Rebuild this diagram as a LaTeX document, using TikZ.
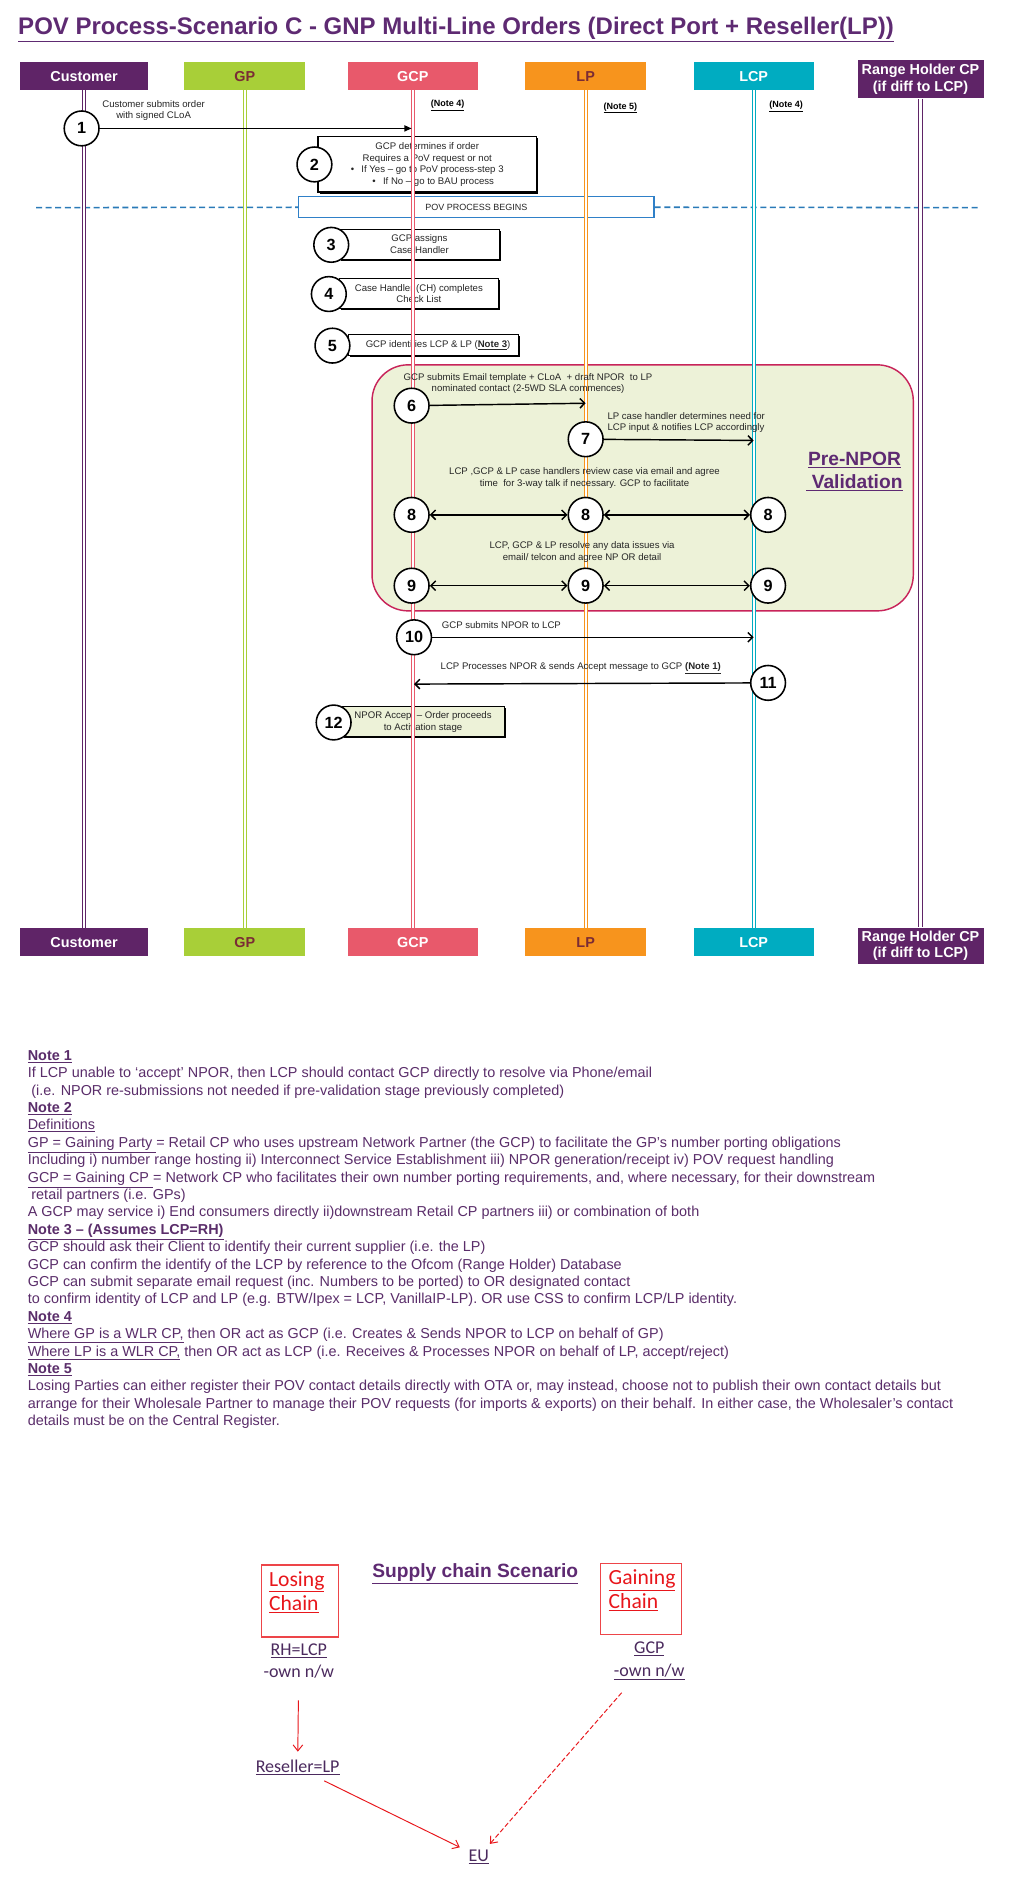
\documentclass[tikz,border=0pt]{standalone}
\usepackage{fontspec}
\setmainfont{Liberation Sans}
\newfontfamily\calfont{Carlito}
\usetikzlibrary{arrows.meta,shadows}
\pgfdeclarelayer{bg}\pgfdeclarelayer{mid}
\pgfsetlayers{bg,mid,main}
\definecolor{ttl}{HTML}{5E2A72}
\definecolor{cust}{HTML}{5F2467}
\definecolor{gpc}{HTML}{A8CF38}
\definecolor{gcpc}{HTML}{E8596B}
\definecolor{lpc}{HTML}{F7941D}
\definecolor{lcpc}{HTML}{00ACC1}
\definecolor{gptxt}{HTML}{7A2B35}
\definecolor{valfill}{HTML}{EDF2D8}
\definecolor{valbord}{HTML}{C8245A}
\definecolor{dashblue}{HTML}{2A7AB8}
\definecolor{povblue}{HTML}{2F80C8}
\definecolor{notec}{HTML}{5A2D6A}
\definecolor{chainred}{HTML}{E8161B}
\definecolor{scpurple}{HTML}{4B2A5E}
\begin{document}
\begin{tikzpicture}[x=1pt,y=-1pt,
  hdr/.style={minimum height=23pt, inner sep=0pt, font=\fontsize{12}{13}\selectfont\bfseries, text=white},
  life/.style={draw=#1, line width=0.8pt, double=white, double distance=1.8pt},
  num/.style={circle, draw=black, line width=1.3pt, fill=white, minimum size=29pt, inner sep=0pt, font=\fontsize{13.5}{14}\selectfont\bfseries},
  sm/.style={font=\fontsize{8}{9.6}\selectfont, align=center, inner sep=0pt, text=black!85},
  sbox/.style={draw=black, line width=0.9pt, fill=white, drop shadow={shadow xshift=1.3pt, shadow yshift=-1.3pt, fill=black, opacity=1}, inner sep=0pt, font=\fontsize{8}{9.6}\selectfont, align=center, text=black!85},
  msg/.style={line width=1.2pt, -{Straight Barb[length=4pt,width=8pt]}},
  dmsg/.style={line width=1.2pt, {Straight Barb[length=4pt,width=8pt]}-{Straight Barb[length=4pt,width=8pt]}},
  nref/.style={font=\fontsize{7.5}{8}\selectfont\bfseries, inner sep=0pt},
  chainbox/.style={draw=chainred!80, line width=0.9pt, minimum width=64pt, minimum height=60pt, inner sep=0pt},
  chaintxt/.style={text=chainred, font=\calfont\fontsize{18}{20}\selectfont, align=left, inner sep=0pt, anchor=north west},
  scn/.style={font=\calfont\fontsize{15}{19}\selectfont, text=scpurple, align=center, inner sep=0pt},
  redarr/.style={draw=chainred, line width=0.8pt, -{Straight Barb[length=5pt,width=8pt]}}
]
\useasboundingbox (0,0) rectangle (853,1564);
\begin{pgfonlayer}{bg}
\fill[white] (0,0) rectangle (853,1564);
\end{pgfonlayer}

% title
\node[anchor=base west, inner sep=0pt, text=ttl, font=\fontsize{20}{22}\selectfont\bfseries] (title) at (15,29) {\underline{POV Process-Scenario C - GNP Multi-Line Orders (Direct Port + Reseller(LP))}};

% headers
\node[hdr, fill=cust, minimum width=107pt] (hcu) at (70,63.5) {Customer};
\node[hdr, fill=gpc, text=gptxt, minimum width=101pt] (hgp) at (204,63.5) {GP};
\node[hdr, fill=gcpc, minimum width=108pt] (hgcp) at (344,63.5) {GCP};
\node[hdr, fill=lpc, text=gptxt, minimum width=101pt] (hlp) at (488,63.5) {LP};
\node[hdr, fill=lcpc, minimum width=100pt] (hlcp) at (628,63.5) {LCP};
\node[hdr, fill=cust, minimum width=105pt, minimum height=32pt, align=center, font=\fontsize{12}{13.5}\selectfont\bfseries] (hrh) at (767,66) {Range Holder CP\\(if diff to LCP)};

\node[hdr, fill=cust, minimum width=107pt] (bcu) at (70,785) {Customer};
\node[hdr, fill=gpc, text=gptxt, minimum width=101pt] (bgp) at (204,785) {GP};
\node[hdr, fill=gcpc, minimum width=108pt] (bgcp) at (344,785) {GCP};
\node[hdr, fill=lpc, text=gptxt, minimum width=101pt] (blp) at (488,785) {LP};
\node[hdr, fill=lcpc, minimum width=100pt] (blcp) at (628,785) {LCP};
\node[hdr, fill=cust, minimum width=105pt, minimum height=30pt, align=center, font=\fontsize{12}{13.5}\selectfont\bfseries] (brh) at (767,788) {Range Holder CP\\(if diff to LCP)};

\begin{pgfonlayer}{mid}
\draw[life=cust] (hcu) -- (bcu);
\draw[life=gpc] (hgp) -- (bgp);
\draw[life=gcpc] (hgcp) -- (bgcp);
\draw[life=lpc] (hlp) -- (blp);
\draw[life=lcpc] (hlcp) -- (blcp);
\draw[life=cust] (hrh) -- (brh);
\end{pgfonlayer}

% step 1
\node[num] (c1) at (68,107) {1};
\coordinate (e1) at (343,107);
\draw[line width=1.2pt, -{Triangle[length=6pt,width=5pt]}] (c1) -- (e1);
\node[sm] (t1) at (128,92) {Customer submits order\\with signed CLoA};
\node[nref] (n4a) at (373,88) {\underline{(Note 4)}};
\node[nref] (n5) at (517,90) {\underline{(Note 5)}};
\node[nref] (n4b) at (655,89) {\underline{(Note 4)}};

\begin{pgfonlayer}{bg}
\node[sbox, minimum width=182pt, minimum height=46pt] (b2) at (356,137) {GCP determines if order\\Requires a PoV request or not\\\textbullet\hspace{6pt}If Yes -- go to PoV process-step 3\\\hspace{10pt}\textbullet\hspace{6pt}If No -- go to BAU process};
\coordinate (dl) at (30,173);
\coordinate (dr) at (815,173);
\node[draw=povblue, line width=1pt, fill=white, minimum width=296pt, minimum height=17pt, inner sep=0pt, font=\fontsize{7.5}{8}\selectfont, text=black!85] (pov) at (397,172.5) {POV PROCESS BEGINS};
\draw[dashblue, line width=1.3pt, dash pattern=on 5pt off 3pt] (dl) -- (pov);
\draw[dashblue, line width=1.3pt, dash pattern=on 5pt off 3pt] (pov) -- (dr);
\node[sbox, minimum width=133pt, minimum height=25pt] (b3) at (349.5,203.5) {GCP assigns\\Case Handler};
\node[sbox, minimum width=132pt, minimum height=25pt] (b4) at (349,244.5) {Case Handler (CH) completes\\Check List};
\node[sbox, minimum width=142pt, minimum height=17pt] (b5) at (361,287.5) {\hspace{8pt}GCP identifies LCP \& LP (\underline{\textbf{Note 3}})};
\draw[draw=valbord, fill=valfill, line width=1.2pt, rounded corners=30pt] (310,304) rectangle (761,509);
\node[sbox, fill=valfill, minimum width=135pt, minimum height=25pt] (b12) at (352.5,601.5) {NPOR Accept -- Order proceeds\\to Activation stage};
\end{pgfonlayer}

\node[num] (c2) at (262,137) {2};
\node[num] (c3) at (276,204) {3};
\node[num] (c4) at (274,245) {4};
\node[num] (c5) at (277,288) {5};

\node[font=\fontsize{16}{19}\selectfont\bfseries, text=ttl, align=center, inner sep=0pt] (pre) at (712,393) {\underline{Pre-NPOR}\\\underline{\ Validation}};

% step 6
\node[num] (c6) at (343,338) {6};
\coordinate (e6) at (488,336);
\draw[msg] (c6) -- (e6);
\node[sm] (t6) at (440,319.5) {GCP submits Email template + CLoA\ \ + draft NPOR\ \ to LP\\nominated contact (2-5WD SLA commences)};
% step 7
\node[num] (c7) at (488,366) {7};
\coordinate (e7) at (628,367);
\draw[msg] (c7) -- (e7);
\node[sm, anchor=west, align=left] (t7) at (506,352) {LP case handler determines need for\\LCP input \& notifies LCP accordingly};
% step 8
\node[sm] (t8) at (487,398.5) {LCP ,GCP \& LP case handlers review case via email and agree\\time\ \ for 3-way talk if necessary. GCP to facilitate};
\node[num] (c8a) at (343,429) {8};
\node[num] (c8b) at (488,429) {8};
\node[num] (c8c) at (640,429) {8};
\draw[dmsg] (c8a) -- (c8b);
\draw[dmsg] (c8b) -- (c8c);
% step 9
\node[sm] (t9) at (485,460) {LCP, GCP \& LP resolve any data issues via\\email/ telcon and agree NP OR detail};
\node[num] (c9a) at (343,488) {9};
\node[num] (c9b) at (488,488) {9};
\node[num] (c9c) at (640,488) {9};
\draw[dmsg] (c9a) -- (c9b);
\draw[dmsg] (c9b) -- (c9c);
% step 10
\node[num] (c10) at (345,531) {10};
\coordinate (e10) at (628,531);
\draw[msg] (c10) -- (e10);
\node[sm, anchor=west] (t10) at (368,521) {GCP submits NPOR to LCP};
% step 11
\node[num] (c11) at (640,569) {11};
\coordinate (e11) at (345,570);
\draw[msg] (c11) -- (e11);
\node[sm, anchor=west] (t11) at (367,557) {LCP Processes NPOR \& sends Accept message to GCP \underline{\textbf{(Note 1)}}};
% step 12
\node[num] (c12) at (278,602) {12};

% notes
\node[anchor=north west, align=left, inner sep=0pt, text=notec, font=\fontsize{12}{14.5}\selectfont] (notes) at (23,875) {%
\underline{\textbf{Note 1}}\\
If LCP unable to ‘accept’ NPOR, then LCP should contact GCP directly to resolve via Phone/email\\
\hspace{3pt}(i.e. NPOR re-submissions not needed if pre-validation stage previously completed)\\
\underline{\textbf{Note 2}}\\
\underline{Definitions}\\
\underline{GP = Gaining Party }= Retail CP who uses upstream Network Partner (the GCP) to facilitate the GP’s number porting obligations\\
Including i) number range hosting ii) Interconnect Service Establishment iii) NPOR generation/receipt iv) POV request handling\\
\underline{GCP = Gaining CP }= Network CP who facilitates their own number porting requirements, and, where necessary, for their downstream\\
\hspace{3pt}retail partners (i.e. GPs)\\
A GCP may service i) End consumers directly ii)downstream Retail CP partners iii) or combination of both\\
\underline{\textbf{Note 3 -- (Assumes LCP=RH)}}\\
GCP should ask their Client to identify their current supplier (i.e. the LP)\\
GCP can confirm the identify of the LCP by reference to the Ofcom (Range Holder) Database\\
GCP can submit separate email request (inc. Numbers to be ported) to OR designated contact\\
to confirm identity of LCP and LP (e.g. BTW/Ipex = LCP, VanillaIP-LP). OR use CSS to confirm LCP/LP identity.\\
\underline{\textbf{Note 4}}\\
\underline{Where GP is a WLR CP,} then OR act as GCP (i.e. Creates \& Sends NPOR to LCP on behalf of GP)\\
\underline{Where LP is a WLR CP,} then OR act as LCP (i.e. Receives \& Processes NPOR on behalf of LP, accept/reject)\\
\underline{\textbf{Note 5}}\\
Losing Parties can either register their POV contact details directly with OTA or, may instead, choose not to publish their own contact details but\\
arrange for their Wholesale Partner to manage their POV requests (for imports \& exports) on their behalf. In either case, the Wholesaler’s contact\\
details must be on the Central Register.};

% supply chain
\node[font=\fontsize{16}{18}\selectfont\bfseries, text=ttl, inner sep=0pt] (sct) at (396,1311) {\underline{Supply chain Scenario}};
\node[chainbox] (lose) at (250,1334) {};
\node[chaintxt] (losetxt) at (224,1309) {\underline{Losing}\\\underline{Chain}};
\node[chainbox, minimum width=68pt, minimum height=59pt] (gain) at (534,1332.5) {};
\node[chaintxt] (gaintxt) at (507,1308) {\underline{Gaining}\\\underline{Chain}};
\node[scn] (rh) at (249,1384) {\underline{RH=LCP}\\-own n/w};
\node[scn] (gcp2) at (541,1384) {\underline{GCP}\\\underline{-own n/w}};
\node[scn] (res) at (248,1473) {\underline{Reseller=LP}};
\node[scn] (eu) at (399,1547) {\underline{EU}};
\draw[redarr, shorten <=18pt, shorten >=7pt] (rh) -- (res);
\draw[redarr, shorten <=10pt, shorten >=8pt] (res) -- (eu);
\draw[redarr, dash pattern=on 4pt off 2pt, shorten <=14pt, shorten >=6pt] (gcp2) -- (eu);
\end{tikzpicture}
\end{document}
